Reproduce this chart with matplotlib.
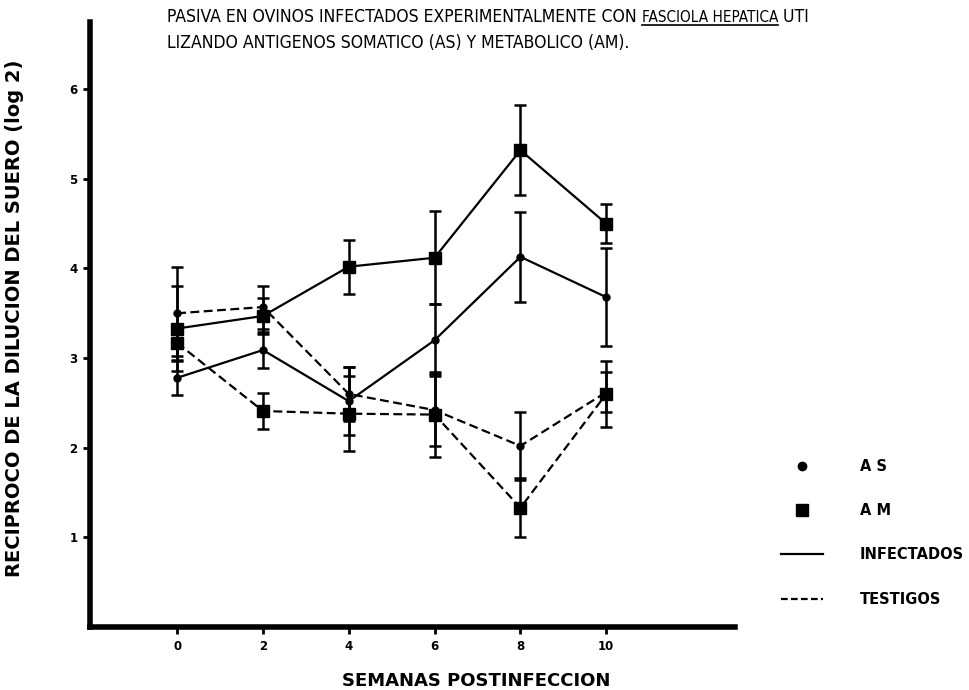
###
### Respuesta inmunitaria (reciproco de la dilucion del suero, log 2)
### en ovinos infectados y testigos, antigenos AS y AM
###

import matplotlib.pyplot as plt
from matplotlib.lines import Line2D

### datos
semanas = [0, 2, 4, 6, 8, 10]

as_infectados = [2.78, 3.09, 2.52, 3.20, 4.13, 3.68]
as_infectados_err = [0.19, 0.20, 0.38, 0.40, 0.50, 0.55]

am_infectados = [3.33, 3.47, 4.02, 4.12, 5.32, 4.50]
am_infectados_err = [0.47, 0.20, 0.30, 0.52, 0.50, 0.22]

as_testigos = [3.50, 3.57, 2.60, 2.42, 2.02, 2.62]
as_testigos_err = [0.52, 0.24, 0.30, 0.40, 0.38, 0.22]

am_testigos = [3.17, 2.41, 2.38, 2.37, 1.33, 2.60]
am_testigos_err = [0.15, 0.20, 0.42, 0.47, 0.33, 0.37]

yticks = [1, 2, 3, 4, 5, 6]

W, H = 970, 690
fig = plt.figure(figsize=(9.7, 6.9), dpi=100)
ax = fig.add_axes([90 / W, 63 / H, 645 / W, 605 / H])

lw = 1.6
estilo = dict(color="black", linewidth=lw, elinewidth=1.8, capsize=4, capthick=1.8)

### infectados: linea continua
ax.errorbar(semanas, as_infectados, yerr=as_infectados_err, fmt="-o", markersize=5, **estilo)
ax.errorbar(semanas, am_infectados, yerr=am_infectados_err, fmt="-s", markersize=8, **estilo)

### testigos: linea discontinua
for y, e, m, ms in [(as_testigos, as_testigos_err, "o", 5), (am_testigos, am_testigos_err, "s", 8)]:
    cont = ax.errorbar(semanas, y, yerr=e, fmt=m, linestyle="--", markersize=ms, **estilo)
    cont.lines[0].set_dashes((4, 2))

### ejes
ax.set_xlim(-2.03, 13.0)
ax.set_ylim(0, 6.75)
ax.set_xticks(semanas)
ax.set_yticks(yticks)
for s in ["top", "right"]:
    ax.spines[s].set_visible(False)
for s in ["left", "bottom"]:
    ax.spines[s].set_linewidth(4)
ax.tick_params(axis="both", length=5, width=2, labelsize=8.5, pad=4)
for t in ax.get_xticklabels() + ax.get_yticklabels():
    t.set_fontweight("heavy")

fig.text(476 / W, 1 - 681 / H, "SEMANAS POSTINFECCION", fontsize=13, fontweight="heavy",
         ha="center", va="center")
fig.text(15 / W, 1 - 318 / H, "RECIPROCO DE LA DILUCION DEL SUERO (log 2)", rotation=90,
         fontsize=14, fontweight="heavy", ha="center", va="center")

### titulo (texto mecanografiado, letra estrecha)
fuente = dict(fontsize=12.6, family="DejaVu Sans", fontstretch="condensed", va="baseline")
fig.canvas.draw()
r = fig.canvas.get_renderer()
y1, y2 = 1 - 22 / H, 1 - 48 / H
t1 = fig.text(167 / W, y1, "PASIVA EN OVINOS INFECTADOS EXPERIMENTALMENTE CON ", **fuente)
bb = t1.get_window_extent(r)
t2 = fig.text(bb.x1 / W, y1, "FASCIOLA HEPATICA", **dict(fuente, fontsize=11))
bb2 = t2.get_window_extent(r)
fig.add_artist(Line2D([bb2.x0 / W, bb2.x1 / W], [y1 - 3 / H, y1 - 3 / H],
                      color="black", linewidth=1.2))
fig.text(bb2.x1 / W, y1, " UTI", **fuente)
fig.text(167 / W, y2, "LIZANDO ANTIGENOS SOMATICO (AS) Y METABOLICO (AM).", **fuente)

### leyenda
handles = [
    Line2D([], [], color="black", marker="o", linestyle="none", markersize=6),
    Line2D([], [], color="black", marker="s", linestyle="none", markersize=8),
    Line2D([], [], color="black", linewidth=lw),
    Line2D([], [], color="black", linewidth=lw, dashes=(3, 1.5)),
]
etiquetas = ["A S", "A M", "INFECTADOS", "TESTIGOS"]
leg = fig.legend(handles, etiquetas, loc="upper left", bbox_to_anchor=(768 / W, 1 - 446 / H),
                 frameon=False, handlelength=2.9, handletextpad=2.5, labelspacing=2.0,
                 prop=dict(size=10.5, weight="heavy"))

plt.savefig("out.png", dpi=100)
